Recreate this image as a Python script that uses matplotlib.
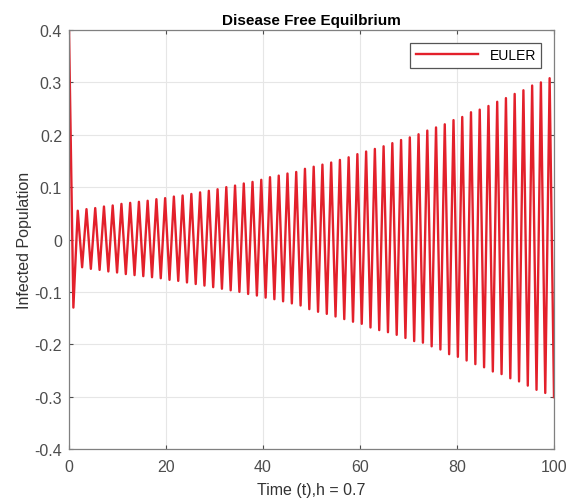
import numpy as np
import matplotlib
matplotlib.use("Agg")
import matplotlib.pyplot as plt

plt.rcParams['font.family'] = ['Liberation Sans', 'DejaVu Sans']

# extreme values of the Euler solution
start_value = 0.4
peaks = [0.055, 0.058, 0.060, 0.063, 0.065, 0.068, 0.070, 0.072, 0.074, 0.077,
         0.079, 0.082, 0.084, 0.087, 0.090, 0.093, 0.096, 0.100, 0.103, 0.107,
         0.110, 0.114, 0.119, 0.122, 0.126, 0.129, 0.135, 0.139, 0.143, 0.147,
         0.152, 0.157, 0.163, 0.168, 0.173, 0.178, 0.184, 0.190, 0.195, 0.201,
         0.208, 0.214, 0.220, 0.228, 0.234, 0.243, 0.248, 0.255, 0.263, 0.270,
         0.278, 0.285, 0.294, 0.300, 0.308]
troughs = [-0.130, -0.053, -0.056, -0.058, -0.061, -0.063, -0.066, -0.068, -0.070,
           -0.072, -0.074, -0.077, -0.079, -0.082, -0.085, -0.088, -0.091, -0.094,
           -0.097, -0.100, -0.104, -0.107, -0.111, -0.114, -0.118, -0.122, -0.126,
           -0.133, -0.138, -0.142, -0.147, -0.152, -0.157, -0.161, -0.168, -0.173,
           -0.177, -0.182, -0.188, -0.194, -0.197, -0.204, -0.210, -0.219, -0.224,
           -0.231, -0.238, -0.244, -0.252, -0.257, -0.265, -0.271, -0.279, -0.287,
           -0.293, -0.301]

xticks = [0, 20, 40, 60, 80, 100]
yticks = [-0.4, -0.3, -0.2, -0.1, 0, 0.1, 0.2, 0.3, 0.4]
ytick_labels = ['-0.4', '-0.3', '-0.2', '-0.1', '0', '0.1', '0.2', '0.3', '0.4']

# zigzag: start value, then trough / peak alternating
values = [start_value]
for i in range(len(troughs)):
    values.append(troughs[i])
    if i < len(peaks):
        values.append(peaks[i])
t = np.linspace(0, 100, len(values))

fig = plt.figure(figsize=(5.76, 5.02), dpi=100)
ax = fig.add_axes([0.1198, 0.1036, 0.8420, 0.8346])

ax.plot(t, values, color='#e3202b', linewidth=1.7, label='EULER')

ax.set_xlim(0, 100)
ax.set_ylim(-0.4, 0.4)
ax.set_xticks(xticks)
ax.set_yticks(yticks, ytick_labels)
ax.grid(True, color='#e6e6e6', linewidth=0.8)
ax.tick_params(direction='in', top=True, right=True, labelsize=11.5,
               labelcolor='#4d4d4d', color='#4d4d4d', length=3)
ax.tick_params(axis='x', pad=7)
ax.tick_params(axis='y', pad=5)
for s in ax.spines.values():
    s.set_color('#808080')
    s.set_linewidth(0.9)

ax.set_title('Disease Free Equilbrium', fontsize=11, fontweight='bold', pad=4)
ax.set_xlabel('Time (t),h = 0.7', fontsize=11.5, color='#333333', labelpad=6)
ax.set_ylabel('Infected Population', fontsize=11.5, color='#333333', labelpad=2)

leg = ax.legend(loc='upper right', fontsize=10, fancybox=False, framealpha=1,
                edgecolor='#555555', borderaxespad=0.9, handlelength=4.5)
leg.get_frame().set_linewidth(0.9)

fig.savefig('out.png', dpi=100)
